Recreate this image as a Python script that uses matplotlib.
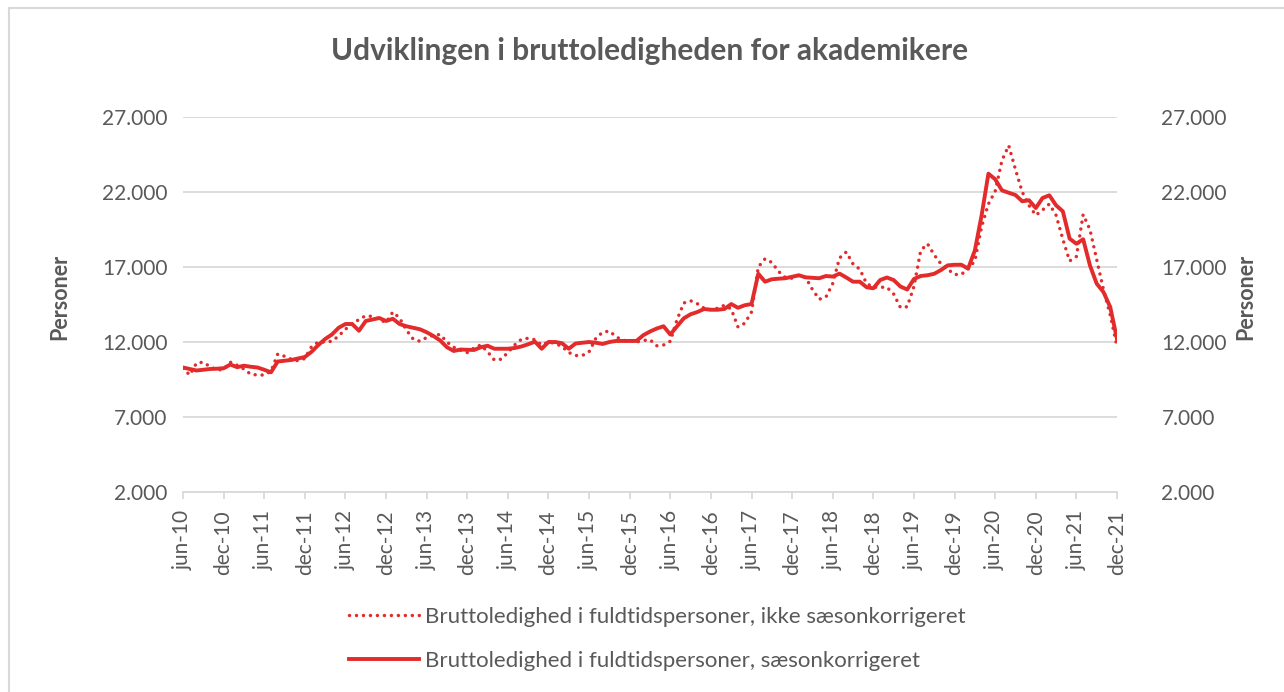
import matplotlib.pyplot as plt
import numpy as np
from matplotlib.patches import Rectangle
from matplotlib.ticker import FuncFormatter

plt.rcParams['font.family'] = ['Lato', 'DejaVu Sans']

# monthly values jun-10 .. dec-21 (139 months)
ikke_saeson = [10250, 9800, 10600, 10650, 10350, 10150, 10150, 10650, 10450, 10200, 9850, 9800,
               9800, 10050, 11200, 11050, 10850, 10750, 10900, 11700, 12000, 12000, 12050, 12400,
               12850, 13200, 13500, 13750, 13700, 13500, 13300, 14000, 13600, 12800, 12200, 12050,
               12300, 12450, 12500, 12000, 11650, 11450, 11300, 11600, 11800, 11350, 10800, 10850,
               11300, 11800, 12180, 12250, 12150, 11800, 12000, 11900, 11700, 11300, 11100, 11100,
               11350, 12250, 12650, 12730, 12350, 12100, 12100, 12000, 12100, 12150, 11750, 11800,
               12050, 13500, 14600, 14750, 14550, 14250, 14150, 14250, 14450, 14200, 13000, 13250,
               14000, 17000, 17550, 17300, 16700, 16300, 16250, 16450, 16300, 15500, 14850, 15000,
               15900, 17600, 18000, 17200, 16850, 15900, 15650, 15650, 15650, 15200, 14300, 14350,
               15700, 18100, 18550, 17800, 17200, 16850, 16500, 16500, 16890, 17400, 19700, 21200,
               22050, 24100, 25100, 23500, 22000, 21100, 20450, 20800, 21200, 20450, 18850, 17400,
               17700, 20500, 19500, 17500, 15500, 13800, 11700]

saeson = [10300, 10200, 10100, 10150, 10200, 10220, 10250, 10500, 10320, 10420, 10350, 10300,
          10150, 9980, 10700, 10750, 10800, 10900, 11000, 11350, 11800, 12200, 12500, 12950,
          13200, 13200, 12750, 13400, 13500, 13600, 13400, 13550, 13200, 13050, 12950, 12850,
          12650, 12400, 12100, 11650, 11400, 11500, 11480, 11470, 11650, 11750, 11550, 11550,
          11550, 11600, 11700, 11850, 12020, 11550, 12000, 12000, 11920, 11550, 11900, 11950,
          12000, 11950, 11870, 12000, 12070, 12070, 12070, 12070, 12450, 12700, 12900, 13050,
          12500, 13050, 13580, 13850, 14000, 14200, 14150, 14150, 14200, 14530, 14280, 14450,
          14530, 16550, 16020, 16180, 16220, 16250, 16350, 16450, 16310, 16280, 16250, 16400,
          16360, 16560, 16300, 16020, 16020, 15650, 15580, 16130, 16300, 16130, 15700, 15500,
          16200, 16400, 16450, 16550, 16800, 17110, 17150, 17150, 16890, 18110, 20450, 23220,
          22850, 22110, 21950, 21800, 21380, 21450, 20930, 21600, 21780, 21110, 20710, 18890,
          18550, 18850, 17110, 15890, 15330, 14330, 12200]

tick_labels = ['jun-10', 'dec-10', 'jun-11', 'dec-11', 'jun-12', 'dec-12', 'jun-13', 'dec-13',
               'jun-14', 'dec-14', 'jun-15', 'dec-15', 'jun-16', 'dec-16', 'jun-17', 'dec-17',
               'jun-18', 'dec-18', 'jun-19', 'dec-19', 'jun-20', 'dec-20', 'jun-21', 'dec-21']
y_ticks = [2000, 7000, 12000, 17000, 22000, 27000]

red = '#e32b2b'
grey_txt = '#595959'
grid_c = '#d9d9d9'

x = np.arange(len(saeson))

fig = plt.figure(figsize=(12.84, 6.92), dpi=100)
ax = fig.add_axes([183/1284, 1-492/692, 934/1284, 375/692])

ax.plot(x, ikke_saeson, color=red, lw=2.5, linestyle=(0, (0.01, 2.0)),
        dash_capstyle='round', label='Bruttoledighed i fuldtidspersoner, ikke sæsonkorrigeret')
ax.plot(x, saeson, color=red, lw=2.8, solid_joinstyle='round',
        label='Bruttoledighed i fuldtidspersoner, sæsonkorrigeret')

fmt = FuncFormatter(lambda v, p: f'{int(v):,}'.replace(',', '.'))

ax.set_xlim(0, len(saeson) - 1)
ax.set_ylim(2000, 27000)
ax.set_yticks(y_ticks)
ax.yaxis.set_major_formatter(fmt)
ax.set_xticks(np.arange(0, len(saeson), 6))
ax.set_xticklabels(tick_labels, rotation=90)
ax.grid(axis='y', color=grid_c, lw=1.3)
ax.set_axisbelow(True)
for s in ['top', 'left', 'right']:
    ax.spines[s].set_visible(False)
ax.spines['bottom'].set_color(grid_c)
ax.spines['bottom'].set_linewidth(1.3)
ax.tick_params(axis='x', colors=grid_c, length=5, width=1.3, pad=8, labelcolor=grey_txt, labelsize=15)
ax.tick_params(axis='y', length=0, pad=11, labelcolor=grey_txt, labelsize=15)

ax2 = ax.twinx()
ax2.set_ylim(2000, 27000)
ax2.set_yticks(y_ticks)
ax2.yaxis.set_major_formatter(fmt)
for s in ax2.spines.values():
    s.set_visible(False)
ax2.tick_params(axis='y', length=0, pad=32, labelcolor=grey_txt, labelsize=15)

ax.set_ylabel('Personer', fontsize=15.5, fontweight='bold', color=grey_txt)
ax.yaxis.set_label_coords(-0.121, 0.52)
ax2.set_ylabel('Personer', fontsize=15.5, fontweight='bold', color=grey_txt)
ax2.yaxis.set_label_coords(1.127, 0.52)

fig.text(650/1284, 1-51/692, 'Udviklingen i bruttoledigheden for akademikere', ha='center', va='center',
         fontsize=21.5, fontweight='bold', color=grey_txt)

leg = fig.legend(loc='center', bbox_to_anchor=(0.512, 1-639/692), frameon=False, fontsize=16,
                 handlelength=3.15, handletextpad=0.25, labelspacing=1.1)
for t in leg.get_texts():
    t.set_color(grey_txt)

fig.patches.append(Rectangle((9/1284, -0.01), 1.1, 1-8/692 + 0.01, transform=fig.transFigure,
                             fill=False, edgecolor=grid_c, lw=1.5))

fig.savefig('out.png', dpi=100)
